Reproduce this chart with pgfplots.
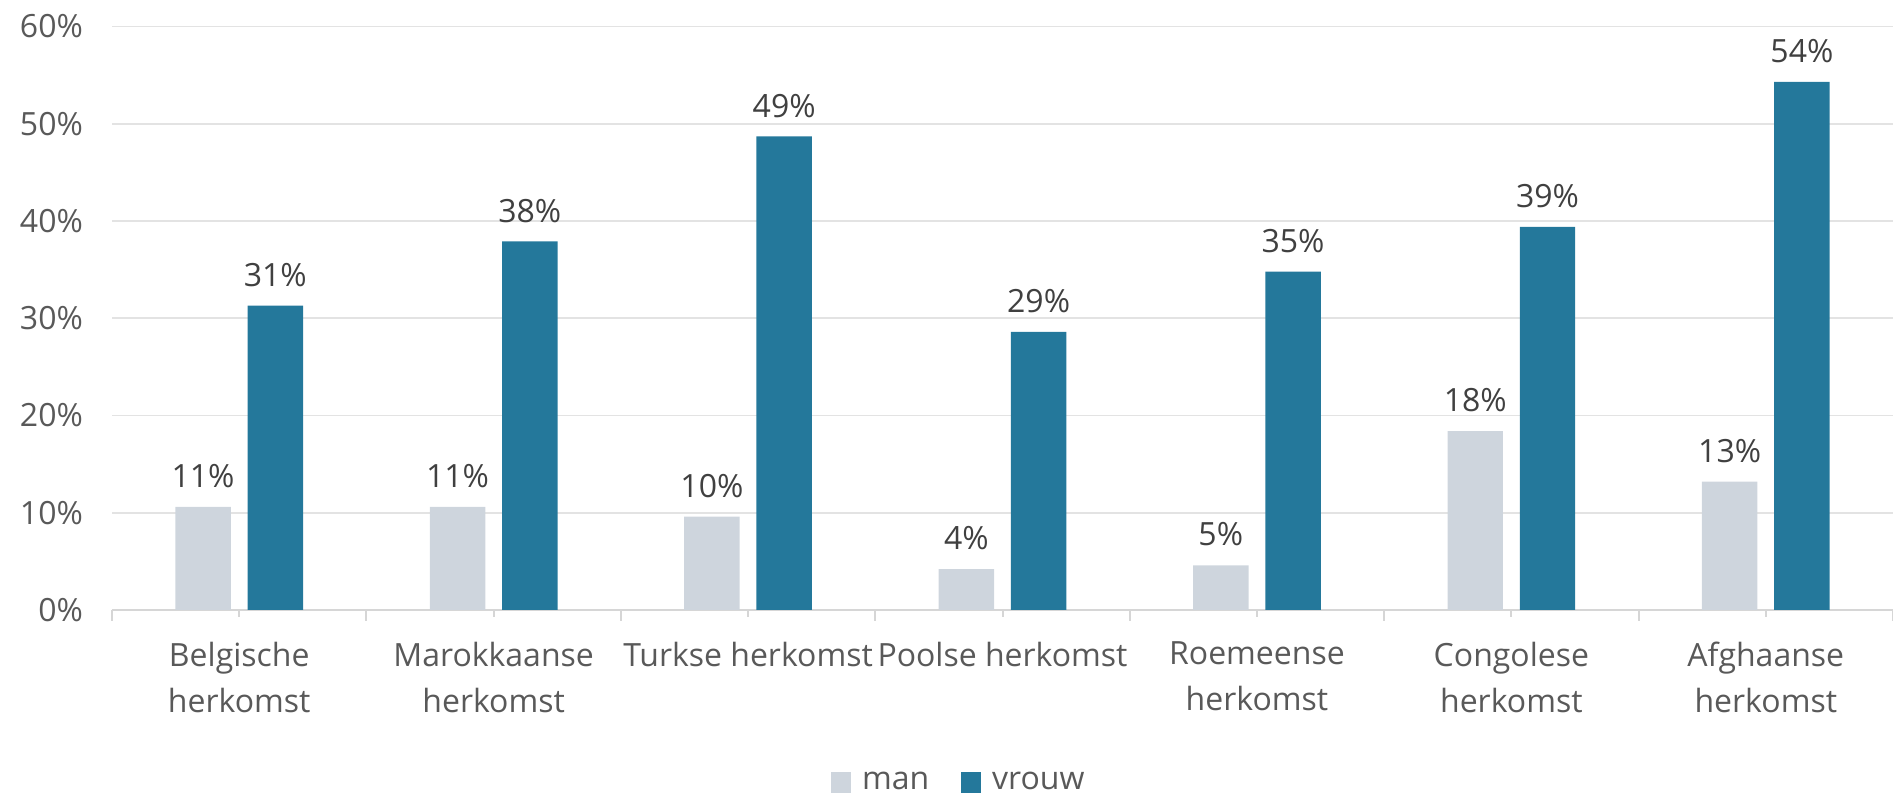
\documentclass[border=0pt]{standalone}
\usepackage{pgfplots}
\pgfplotsset{compat=1.18}
\usepackage{fontspec}
\setmainfont{Open Sans}
\definecolor{mancol}{HTML}{CED5DD}
\definecolor{vrouwcol}{HTML}{24789B}
\definecolor{labgray}{HTML}{595959}
\definecolor{valgray}{HTML}{404040}
\definecolor{gridgray}{HTML}{E3E3E3}
\definecolor{axisgray}{HTML}{D6D6D6}
\pgfplotstableread{
x man vrouw
0 10.6 31.3
1 10.6 37.9
2 9.6 48.7
3 4.2 28.6
4 4.6 34.8
5 18.4 39.4
6 13.2 54.3
}\datatable
\begin{document}
\begin{tikzpicture}
\begin{axis}[
  at={(0,0)}, anchor=south west,
  scale only axis,
  width=890.5pt, height=291.75pt,
  xmin=-0.5, xmax=6.5,
  ymin=0, ymax=60,
  ytick={0,10,...,60},
  yticklabel={\pgfmathprintnumber{\tick}\%},
  /pgf/number format/assume math mode=true,
  xtick=data,
  xticklabels={Belgische\\herkomst, Marokkaanse\\herkomst, Turkse herkomst, Poolse herkomst, Roemeense\\herkomst, Congolese\\herkomst, Afghaanse\\herkomst},
  minor xtick={-0.5,0.5,...,6.5},
  axis lines*=left,
  axis line style={-},
  x axis line style={draw=axisgray, line width=1pt},
  y axis line style={draw=none},
  xtick align=inside,
  major tick length=3.5pt, minor tick length=5.5pt,
  tick style={draw=axisgray, line width=1pt},
  minor tick style={draw=axisgray, line width=1pt},
  ytick style={draw=none},
  ymajorgrids,
  grid style={draw=gridgray, line width=0.8pt},
  ticklabel style={font=\fontsize{16}{23}\selectfont, text=labgray},
  xticklabel style={align=center, yshift=-9pt},
  yticklabel style={xshift=-11pt},
  ybar, bar width=0.218,
  nodes near coords={\pgfmathprintnumber[fixed,precision=0]{\pgfplotspointmeta}\%},
  every node near coord/.append style={font=\fontsize{16}{18}\selectfont, text=valgray, yshift=6pt},
  legend style={at={(0.476,-0.296)}, anchor=center, draw=none, fill=none,
    legend columns=2, font=\fontsize{16}{18}\selectfont, text=labgray,
    /tikz/every even column/.append style={column sep=14pt}},
  legend image code/.code={\fill[#1] (0pt,-5.25pt) rectangle (10pt,5.25pt); \path (13.5pt,0pt);},
]
\addplot[fill=mancol, draw=none, bar shift=-0.142] table[x=x, y=man] {\datatable};
\addplot[fill=vrouwcol, draw=none, bar shift=0.142] table[x=x, y=vrouw] {\datatable};
\legend{man, vrouw}
\end{axis}
\pgfresetboundingbox
\path (-56pt,-93pt) rectangle (890.5pt,305pt);
\end{tikzpicture}
\end{document}
